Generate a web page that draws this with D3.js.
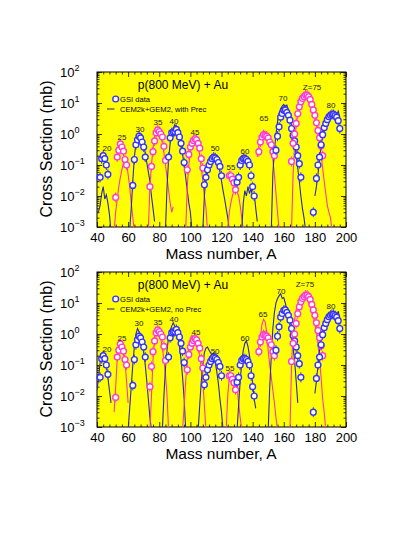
<!DOCTYPE html>
<html>
<head>
<meta charset="utf-8">
<script src="https://cdn.jsdelivr.net/npm/d3@7"></script>
<style>
  body { margin: 0; background: #fff; }
  svg { display: block; font-family: "Liberation Sans", Arial, Helvetica, sans-serif; }
</style>
</head>
<body>
<div id="chart"></div>
<script>
// element charge of each isotope chain, blue / pink alternate
var zList = [20, 25, 30, 35, 40, 45, 50, 55, 60, 65, 70, 75, 80];

// GSI measured cross sections [A, mb]
var gsiData = [
  [[42,0.04],[43,0.16],[44,0.2],[45,0.16],[46,0.1],[47,0.05]],
  [[52,0.009],[53,0.18],[54,0.3],[55,0.48],[56,0.38],[57,0.28],[58,0.15],[59,0.1]],
  [[63,0.022],[64,0.15],[65,0.45],[66,0.65],[67,0.85],[68,0.75],[69,0.55],[70,0.38],[71,0.18]],
  [[74,0.02],[75,0.09],[76,0.27],[77,0.6],[78,1.1],[79,1.35],[80,1.2],[81,1.0],[82,0.8],[83,0.4],[84,0.14]],
  [[86,0.18],[87,0.75],[88,1.1],[89,1.15],[90,1.2],[91,1.4],[92,1.1],[93,0.8],[94,0.5],[95,0.28],[96,0.12]],
  [[98,0.07],[99,0.22],[100,0.38],[101,0.5],[102,0.62],[103,0.7],[104,0.65],[105,0.5],[106,0.35],[107,0.16],[108,0.08]],
  [[109,0.023],[110,0.04],[111,0.07],[112,0.1],[113,0.13],[114,0.16],[115,0.18],[116,0.17],[117,0.15],[118,0.12],[119,0.09],[120,0.045]],
  [[125,0.045],[126,0.045],[127,0.035],[128,0.027],[129,0.016]],
  [[130,0.028],[131,0.04],[132,0.1],[133,0.14],[134,0.16],[135,0.16],[136,0.15],[137,0.13],[138,0.1],[139,0.045],[140,0.02],[141,0.01]],
  [[144,0.27],[145,0.55],[146,0.8],[147,0.95],[148,0.9],[149,0.85],[150,0.75],[151,0.55],[152,0.45],[153,0.27],[154,0.2]],
  [[155,0.3],[156,0.85],[157,1.7],[158,3.5],[159,4.6],[160,5.8],[161,6],[162,5],[163,4],[164,2.8],[165,1.5],[166,0.9],[167,0.6],[168,0.38],[169,0.2],[170,0.11],[171,0.04]],
  [[165,0.13],[166,0.5],[167,1.0],[168,2.2],[169,4.5],[170,7.5],[171,11],[172,14],[173,16],[174,18],[175,18],[176,16],[177,13],[178,9],[179,6],[180,4],[181,2.3],[182,1.3],[183,0.75],[184,0.42],[185,0.2]],
  [[179,0.003],[181,0.037],[182,0.1],[183,0.18],[184,0.45],[185,0.95],[186,1.6],[187,2.2],[188,2.9],[189,3.6],[190,4.0],[191,4.3],[192,4.3],[193,3.9],[194,3.5],[195,2.7],[196,1.5]]
];

// CEM2k+GEM2 with preequilibrium [A, mb]
var withPrec = [
  [[40,0.003],[41,0.0032],[42,0.005],[43,0.012],[44,0.02],[45,0.008],[46,0.011],[47,0.006],[48,0.0025],[49,0.0007]],
  [[51,0.0008],[52,0.003],[53,0.008],[54,0.02],[55,0.04],[56,0.07],[57,0.12],[58,0.16],[59,0.12],[60,0.05],[61,0.02],[62,0.006],[63,0.002],[64,0.0007]],
  [[61,0.0008],[62,0.004],[63,0.03],[64,0.18],[65,0.5],[66,0.9],[67,1.0],[68,0.85],[69,0.6],[70,0.4],[71,0.25],[72,0.12],[73,0.06],[74,0.03],[75,0.01],[76,0.004],[77,0.0015]],
  [[73,0.0008],[74,0.02],[75,0.1],[76,0.35],[77,0.8],[78,1.3],[79,1.5],[80,1.3],[81,0.9],[82,0.5],[83,0.25],[84,0.1],[85,0.04],[86,0.015],[87,0.006],[88,0.003],[89,0.0045]],
  [[84,0.0008],[85,0.02],[86,0.15],[87,0.5],[88,1.0],[89,1.5],[90,2.0],[91,1.6],[92,1.2],[93,0.8],[94,0.45],[95,0.22],[96,0.1],[97,0.04],[98,0.015],[99,0.006],[100,0.003],[101,0.0008]],
  [[97,0.0008],[98,0.02],[99,0.1],[100,0.3],[101,0.5],[102,0.65],[103,0.7],[104,0.6],[105,0.4],[106,0.2],[107,0.08],[108,0.03],[109,0.01],[110,0.004],[111,0.0008]],
  [[108,0.0008],[109,0.01],[110,0.04],[111,0.08],[112,0.12],[113,0.16],[114,0.19],[115,0.2],[116,0.19],[117,0.15],[118,0.1],[119,0.06],[120,0.03],[121,0.015],[122,0.008],[123,0.004],[124,0.002],[125,0.0008]],
  [[124,0.0008],[125,0.003],[126,0.006],[127,0.01],[128,0.015],[129,0.016],[130,0.014],[131,0.01],[132,0.005],[133,0.002],[134,0.0008]],
  [[133,0.0008],[134,0.006],[135,0.015],[136,0.01],[137,0.02],[138,0.012],[139,0.018],[140,0.008],[141,0.012],[142,0.004],[143,0.0015]],
  [[143,0.18],[144,0.4],[145,0.6],[146,0.8],[147,0.9],[148,0.95],[149,0.85],[150,0.7],[151,0.5],[152,0.3],[153,0.15],[154,0.05],[155,0.012],[156,0.003],[157,0.0008]],
  [[152,0.0008],[153,0.05],[154,0.3],[155,1.0],[156,2.5],[157,4.5],[158,6.5],[159,8],[160,9],[161,7.5],[162,8.5],[163,5.5],[164,3.5],[165,2],[166,1],[167,0.5],[168,0.2],[169,0.08],[170,0.03],[171,0.01],[172,0.004],[173,0.002],[174,0.0008]],
  [[165,0.0008],[166,0.05],[167,0.5],[168,2],[169,4.5],[170,8],[171,12],[172,15],[173,17],[174,18],[175,18],[176,16],[177,13],[178,9],[179,6],[180,3.5],[181,2],[182,1],[183,0.45],[184,0.2],[185,0.08],[186,0.03],[187,0.012],[188,0.005],[189,0.003],[190,0.002],[191,0.0008]],
  [[180,0.01],[181,0.02],[182,0.05],[183,0.15],[184,0.4],[185,0.9],[186,1.6],[187,2.5],[188,3.2],[189,3.8],[190,4.5],[191,4.8],[192,4.5],[193,5],[194,4],[195,5.5],[196,3.5]]
];

// CEM2k+GEM2 without preequilibrium [A, mb]
var noPrec = [
  [[40,0.015],[41,0.04],[42,0.12],[43,0.2],[44,0.22],[45,0.18],[46,0.1],[47,0.04],[48,0.015],[49,0.006]],
  [[51,0.003],[52,0.02],[53,0.15],[54,0.4],[55,0.55],[56,0.45],[57,0.3],[58,0.12],[59,0.03],[60,0.006]],
  [[60,0.0008],[61,0.004],[62,0.02],[63,0.1],[64,0.4],[65,1.0],[66,1.5],[67,1.2],[68,0.9],[69,0.5],[70,0.25],[71,0.1],[72,0.03],[73,0.008],[74,0.002],[75,0.0008]],
  [[74,0.0008],[75,0.01],[76,0.15],[77,0.7],[78,1.4],[79,1.5],[80,1.2],[81,0.7],[82,0.35],[83,0.15],[84,0.05],[85,0.01],[86,0.0008]],
  [[82,0.0008],[83,0.01],[84,0.08],[85,0.3],[86,0.8],[87,1.3],[88,1.8],[89,2.3],[90,1.8],[91,1.3],[92,0.8],[93,0.4],[94,0.15],[95,0.04],[96,0.008],[97,0.0008]],
  [[95,0.0008],[96,0.005],[97,0.03],[98,0.15],[99,0.4],[100,0.75],[101,0.9],[102,0.8],[103,0.6],[104,0.45],[105,0.3],[106,0.2],[107,0.08],[108,0.03],[109,0.005],[110,0.0008]],
  [[105,0.0008],[106,0.005],[107,0.03],[108,0.1],[109,0.25],[110,0.35],[111,0.38],[112,0.3],[113,0.25],[114,0.2],[115,0.15],[116,0.12],[117,0.06],[118,0.025],[119,0.008],[120,0.003],[121,0.0008]],
  [[123,0.0008],[124,0.01],[125,0.04],[126,0.045],[127,0.045],[128,0.04],[129,0.035],[130,0.02],[131,0.006],[132,0.002],[133,0.0008]],
  [[130,0.0008],[131,0.005],[132,0.03],[133,0.12],[134,0.3],[135,0.5],[136,0.6],[137,0.4],[138,0.2],[139,0.08],[140,0.025],[141,0.008],[142,0.004]],
  [[143,0.25],[144,0.4],[145,0.8],[146,2.0],[147,3.0],[148,2.5],[149,1.2],[150,0.3],[151,0.1],[152,0.04],[153,0.015],[154,0.006],[155,0.002],[156,0.0008]],
  [[150,0.0008],[151,0.02],[152,0.2],[153,1.5],[154,5],[155,10],[156,14],[157,17],[158,20],[159,14],[160,15],[161,10],[162,6],[163,4],[164,2],[165,0.9],[166,0.35],[167,0.13],[168,0.03],[169,0.006]],
  [[164,0.0008],[165,0.1],[166,1.2],[167,3],[168,6],[169,9],[170,12],[171,15],[172,17],[173,18],[174,17],[175,14],[176,11],[177,8],[178,5.5],[179,3.5],[180,2],[181,1.1],[182,0.5],[183,0.15],[184,0.04],[185,0.008],[186,0.003],[187,0.0008]],
  [[180,0.012],[181,0.03],[182,0.1],[183,0.3],[184,0.7],[185,1.3],[186,2],[187,2.8],[188,3.5],[189,4],[190,4.5],[191,4.6],[192,4.3],[193,4.8],[194,3.8],[195,5.5],[196,3]]
];

// where the Z labels sit, in data units [A, mb]
var labelsTop = [[46.4,0.355],[56.1,0.79],[67.6,1.45],[79.2,2.45],[89.5,2.6],[103,1.15],[115.9,0.355],[126.1,0.087],[135.1,0.28],[147.3,3.3],[159.5,14.5],[178.2,33],[190.4,8.7]];
var labelsBottom = [[46.4,0.33],[56.1,0.74],[67,2.24],[79.2,2.45],[89.5,3.0],[103.6,1.15],[115.9,0.28],[125.5,0.079],[135.1,0.74],[146.7,4.5],[158.2,24.5],[173.6,40.7],[190.4,7.9]];

var xTicks = [40, 60, 80, 100, 120, 140, 160, 180, 200];
var yTicks = [1e-3, 1e-2, 1e-1, 1, 10, 100];

var blueDot = "#3535ff", pinkDot = "#ff3ad2";
var blueLine = "#2828b4", pinkLine = "#ff3aa8";

var svg = d3.select("#chart").append("svg").attr("width", 393).attr("height", 555);
var x = d3.scaleLinear().domain([40, 200]).range([97, 346]);
var sup = { "-3": "\u22123", "-2": "\u22122", "-1": "\u22121", "0": "0", "1": "1", "2": "2" };

drawPanel(72, withPrec, "CEM2k+GEM2, with Prec", labelsTop, "p1");
drawPanel(272, noPrec, "CEM2k+GEM2, no Prec", labelsBottom, "p2");

function drawPanel(top, model, legendText, labelPos, id) {
  var bottom = top + 155;
  var y = d3.scaleLog().domain([1e-3, 1e2]).range([bottom, top]);
  var g = svg.append("g");

  g.append("rect").attr("x", 97).attr("y", top).attr("width", 249).attr("height", 155).attr("fill", "#ffff00");
  g.append("clipPath").attr("id", id).append("rect")
    .attr("x", 97).attr("y", top).attr("width", 249).attr("height", 155);

  // ticks, all pointing inwards
  var minorX = d3.range(40, 201, 4).filter(function (v) { return xTicks.indexOf(v) < 0; });
  var minorY = y.ticks().filter(function (v) { return yTicks.indexOf(v) < 0; });
  g.append("g").attr("transform", "translate(0," + bottom + ")")
    .call(d3.axisBottom(x).tickValues(xTicks).tickSize(-5).tickPadding(6).tickFormat(d3.format("d")));
  g.append("g").attr("transform", "translate(0," + bottom + ")")
    .call(d3.axisBottom(x).tickValues(minorX).tickSize(-2.5).tickFormat(""));
  g.append("g").attr("transform", "translate(0," + top + ")")
    .call(d3.axisTop(x).tickValues(xTicks).tickSize(-5).tickFormat(""));
  g.append("g").attr("transform", "translate(0," + top + ")")
    .call(d3.axisTop(x).tickValues(minorX).tickSize(-2.5).tickFormat(""));
  g.append("g").attr("transform", "translate(97,0)")
    .call(d3.axisLeft(y).tickValues(yTicks).tickSize(-5).tickFormat(""));
  g.append("g").attr("transform", "translate(97,0)")
    .call(d3.axisLeft(y).tickValues(minorY).tickSize(-2.5).tickFormat(""));
  g.append("g").attr("transform", "translate(346,0)")
    .call(d3.axisRight(y).tickValues(yTicks).tickSize(-5).tickFormat(""));
  g.append("g").attr("transform", "translate(346,0)")
    .call(d3.axisRight(y).tickValues(minorY).tickSize(-2.5).tickFormat(""));
  g.selectAll(".domain").remove();
  g.selectAll(".tick line").attr("stroke", "#000").attr("stroke-width", 0.8);
  g.selectAll(".tick text").attr("font-size", 13).attr("fill", "#000")
    .attr("font-family", "'Liberation Sans', Arial, sans-serif");

  // y tick labels as 10 with exponent
  var yl = g.selectAll(".ylab").data(yTicks).enter().append("text")
    .attr("x", 60).attr("y", function (d) { return y(d) + 5; })
    .attr("font-size", 13).attr("fill", "#000");
  yl.append("tspan").text("10");
  yl.append("tspan").attr("dy", -6).attr("font-size", 9)
    .text(function (d) { return sup[String(Math.round(Math.log10(d)))]; });

  g.append("rect").attr("x", 97).attr("y", top).attr("width", 249).attr("height", 155)
    .attr("fill", "none").attr("stroke", "#000").attr("stroke-width", 1);

  // model curves
  var line = d3.line().x(function (d) { return x(d[0]); }).y(function (d) { return y(d[1]); });
  g.append("g").attr("clip-path", "url(#" + id + ")")
    .selectAll("path").data(model).enter().append("path")
    .attr("d", line).attr("fill", "none").attr("stroke-width", 1.1)
    .attr("stroke", function (d, i) { return i % 2 ? pinkLine : blueLine; });

  // data with small error bars
  var pts = g.append("g").selectAll("g").data(gsiData).enter().append("g")
    .attr("stroke", function (d, i) { return i % 2 ? pinkDot : blueDot; });
  pts.selectAll("line").data(function (d) { return d; }).enter().append("line")
    .attr("x1", function (d) { return x(d[0]); }).attr("x2", function (d) { return x(d[0]); })
    .attr("y1", function (d) { return y(d[1] * 1.45); }).attr("y2", function (d) { return y(d[1] / 1.45); })
    .attr("stroke-width", 1);
  pts.selectAll("circle").data(function (d) { return d; }).enter().append("circle")
    .attr("cx", function (d) { return x(d[0]); }).attr("cy", function (d) { return y(d[1]); })
    .attr("r", 2.9).attr("fill", "#fff").attr("stroke-width", 1.4);

  // Z labels
  g.selectAll(".zlab").data(zList).enter().append("text")
    .attr("x", function (d, i) { return x(labelPos[i][0]); })
    .attr("y", function (d, i) { return y(labelPos[i][1]); })
    .attr("dy", "0.35em").attr("text-anchor", "middle").attr("font-size", 8).attr("fill", "#222")
    .text(function (d) { return d == 75 ? "Z=75" : d; });

  // title and legend
  g.append("text").attr("x", 183).attr("y", top + 16.5).attr("text-anchor", "middle")
    .attr("font-size", 12).text("p(800 MeV) + Au");
  g.append("circle").attr("cx", 115.7).attr("cy", top + 27).attr("r", 2.9)
    .attr("fill", "#fff").attr("stroke", blueDot).attr("stroke-width", 1.4);
  g.append("text").attr("x", 120).attr("y", top + 29.7).attr("font-size", 7.6).text("GSI data");
  g.append("line").attr("x1", 107).attr("x2", 114.5).attr("y1", top + 37).attr("y2", top + 37)
    .attr("stroke", "#444477").attr("stroke-width", 1.2);
  g.append("text").attr("x", 120).attr("y", top + 39.7).attr("font-size", 7.6).text(legendText);

  // axis titles
  g.append("text").attr("x", 221).attr("y", bottom + 32).attr("text-anchor", "middle")
    .attr("font-size", 15.5).text("Mass number, A");
  g.append("text").attr("transform", "translate(52," + (top + 77) + ") rotate(-90)")
    .attr("text-anchor", "middle").attr("font-size", 16).text("Cross Section (mb)");
}
</script>
</body>
</html>
